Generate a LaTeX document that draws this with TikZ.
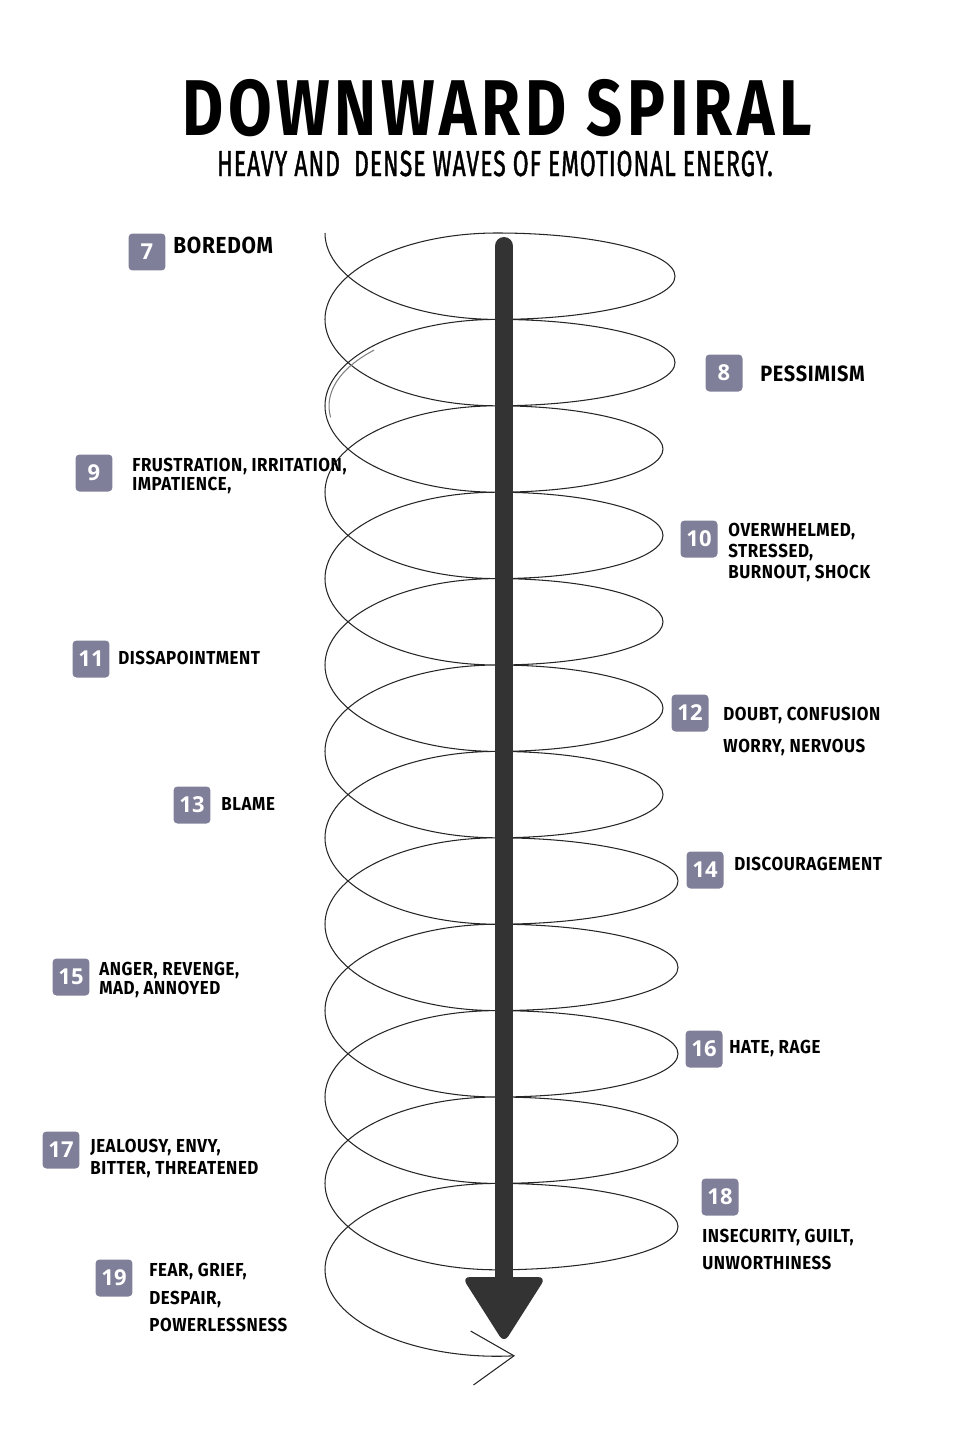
\documentclass[tikz,border=0pt]{standalone}
\usepackage{fontspec}
\setmainfont{Fira Sans}
\newfontfamily\titlefont{Fira Sans}[FakeStretch=0.8,LetterSpace=6]
\newfontfamily\subfont{Fira Sans}[FakeStretch=0.63,LetterSpace=3,FakeBold=1.2]
\newfontfamily\labelfont{Fira Sans}[FakeStretch=0.9,LetterSpace=3]
\newfontfamily\numfont{Open Sans}
\usepackage{xcolor}
\usepackage{tikz}
\usetikzlibrary{arrows.meta}
\definecolor{boxgray}{RGB}{128,127,153}
\definecolor{bardark}{RGB}{51,51,51}

\begin{document}
\begin{tikzpicture}[
  x=0.02cm,
  y=-0.02cm,
  numbox/.style={fill=boxgray, rounded corners=0.8mm, minimum size=0.74cm, inner sep=0pt, text=white, font=\numfont\bfseries\fontsize{12.5}{12.5}\selectfont},
  lbl/.style={anchor=north west, inner sep=0pt, align=left, font=\labelfont\bfseries\fontsize{10.7}{#1}\selectfont},
  lbl/.default=11.9,
  biglbl/.style={anchor=north west, inner sep=0pt, font=\labelfont\bfseries\fontsize{#1}{#1}\selectfont},
  biglbl/.default=13.2,
  spiral/.style={line width=0.6pt, black!85},
  bar/.style={line width=0.36cm, bardark, line cap=round}
]
  \useasboundingbox (0,0) rectangle (973,1440);

  % title
  \node[anchor=base, inner sep=0pt, text depth=0pt, font=\titlefont\bfseries\fontsize{45}{45}\selectfont] (title) at (497,135) {DOWNWARD SPIRAL};
  \node[anchor=base, inner sep=0pt, text height=8pt, font=\subfont\fontsize{20.6}{20.6}\selectfont] (subtitle) at (495,176) {HEAVY AND\ \ DENSE WAVES OF EMOTIONAL ENERGY.};

  % the coil
  \draw[spiral, -{Straight Barb[length=0.84cm, width=1.08cm]}] (325,233)
    arc[start angle=180, end angle=90, x radius=172, y radius=86.4]
    \foreach \r in {178,178,166,166,166,166,166,181,181,181,181} {
      arc[start angle=90, end angle=-90, x radius=\r, y radius=43.2]
      arc[start angle=270, end angle=90, x radius=172, y radius=86.4]
    }
    arc[start angle=90, end angle=-90, x radius=181, y radius=43.2]
    arc[start angle=270, end angle=84, x radius=172, y radius=86.4];
  \draw[spiral, black!50] (497,406) ++(223:168 and 82) arc[start angle=223, end angle=172, x radius=168, y radius=82];

  % central arrow
  \coordinate (arrtop) at (504,246);
  \coordinate (arrbot) at (504,1285);
  \draw[bar] (arrtop) -- (arrbot);
  \fill[bardark, rounded corners=0.16cm] (462,1277) -- (546,1277) -- (504,1343) -- cycle;

  % levels
  \node[numbox] (n7) at (147,252) {7};
  \node[biglbl] (l7) at (173,237) {BOREDOM};
  \node[numbox] (n8) at (724,373) {8};
  \node[biglbl=12.6] (l8) at (760,365) {PESSIMISM};
  \node[numbox] (n9) at (94,473) {9};
  \node[lbl=10.8] (l9) at (132,458) {FRUSTRATION, IRRITATION,\\IMPATIENCE,};
  \node[numbox] (n10) at (699,539) {10};
  \node[lbl=11.9] (l10) at (728,523) {OVERWHELMED,\\STRESSED,\\BURNOUT, SHOCK};
  \node[numbox] (n11) at (91,659) {11};
  \node[lbl] (l11) at (118,651) {DISSAPOINTMENT};
  \node[numbox] (n12) at (690,713) {12};
  \node[lbl=18.1] (l12) at (723,707) {DOUBT, CONFUSION\\WORRY, NERVOUS};
  \node[numbox] (n13) at (192,805) {13};
  \node[lbl] (l13) at (221,797) {BLAME};
  \node[numbox] (n14) at (705,870) {14};
  \node[lbl] (l14) at (734,857) {DISCOURAGEMENT};
  \node[numbox] (n15) at (71,977) {15};
  \node[lbl=10.8] (l15) at (99,962) {ANGER, REVENGE,\\MAD, ANNOYED};
  \node[numbox] (n16) at (704,1049) {16};
  \node[lbl] (l16) at (729,1040) {HATE, RAGE};
  \node[numbox] (n17) at (61,1150) {17};
  \node[lbl=12.5] (l17) at (90,1139) {JEALOUSY, ENVY,\\BITTER, THREATENED};
  \node[numbox] (n18) at (720,1197) {18};
  \node[lbl=15.3] (l18) at (702,1229) {INSECURITY, GUILT,\\UNWORTHINESS};
  \node[numbox] (n19) at (114,1278) {19};
  \node[lbl=15.6] (l19) at (149,1263) {FEAR, GRIEF,\\DESPAIR,\\POWERLESSNESS};
\end{tikzpicture}
\end{document}
